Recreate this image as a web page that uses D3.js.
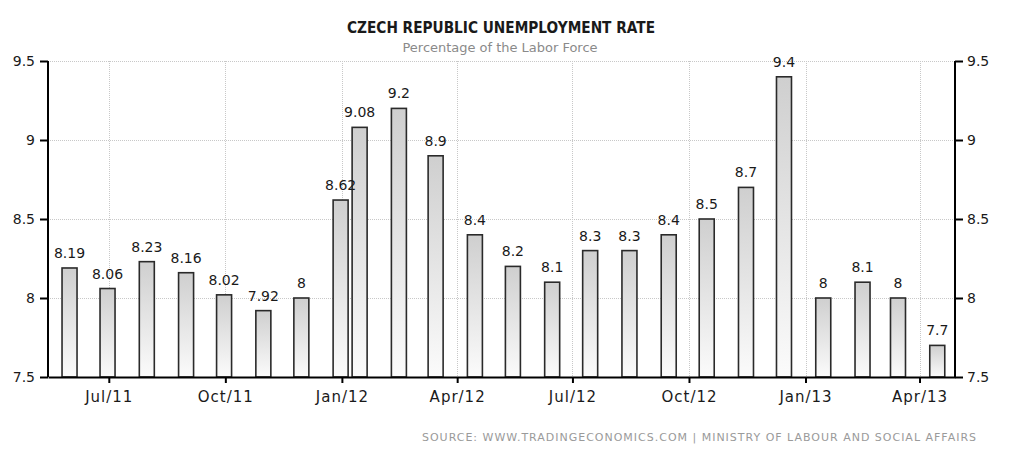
<!DOCTYPE html>
<html>
<head>
<meta charset="utf-8">
<script src="https://cdn.jsdelivr.net/npm/d3@7"></script>
<style>
  html, body { margin: 0; padding: 0; background: #fff; }
  svg { display: block; }
</style>
</head>
<body>
<svg id="chart" width="1024" height="453"></svg>
<script>
// ---- data ----
const dates = ["2011-05-31","2011-06-30","2011-07-31","2011-08-31","2011-09-30","2011-10-31","2011-11-30","2011-12-31",
  "2012-01-15","2012-02-15","2012-03-15","2012-04-15","2012-05-15","2012-06-15","2012-07-15","2012-08-15",
  "2012-09-15","2012-10-15","2012-11-15","2012-12-15","2013-01-15","2013-02-15","2013-03-15","2013-04-15"];
const values = [8.19, 8.06, 8.23, 8.16, 8.02, 7.92, 8, 8.62,
  9.08, 9.2, 8.9, 8.4, 8.2, 8.1, 8.3, 8.3,
  8.4, 8.5, 8.7, 9.4, 8, 8.1, 8, 7.7];
const labels = ["8.19","8.06","8.23","8.16","8.02","7.92","8","8.62",
  "9.08","9.2","8.9","8.4","8.2","8.1","8.3","8.3",
  "8.4","8.5","8.7","9.4","8","8.1","8","7.7"];
const xTickDates = ["2011-07-01","2011-10-01","2012-01-01","2012-04-01","2012-07-01","2012-10-01","2013-01-01","2013-04-01"];
const xTickLabels = ["Jul/11","Oct/11","Jan/12","Apr/12","Jul/12","Oct/12","Jan/13","Apr/13"];
const yTicks = [7.5, 8, 8.5, 9, 9.5];
const yTickLabels = ["7.5","8","8.5","9","9.5"];
const title = "CZECH REPUBLIC UNEMPLOYMENT RATE";
const subtitle = "Percentage of the Labor Force";
const source = "SOURCE: WWW.TRADINGECONOMICS.COM | MINISTRY OF LABOUR AND SOCIAL AFFAIRS";

// ---- layout ----
const parse = d3.utcParse("%Y-%m-%d");
const L = 48, R = 955, T = 61, B = 377;
const svg = d3.select("#chart");
const font = "'DejaVu Sans', sans-serif";

const x = d3.scaleUtc()
  .domain([parse("2011-05-14"), parse("2013-04-29")])
  .range([L, R]);
const y = d3.scaleLinear().domain([7.5, 9.5]).range([B, T]);

const defs = svg.append("defs");
const grad = defs.append("linearGradient").attr("id", "barGrad")
  .attr("x1", 0).attr("y1", 0).attr("x2", 0).attr("y2", 1);
grad.append("stop").attr("offset", "0%").attr("stop-color", "#cfcfcf");
grad.append("stop").attr("offset", "100%").attr("stop-color", "#fbfbfb");

// grid
const grid = svg.append("g");
grid.selectAll("line.h").data(yTicks.filter(v => v > 7.5)).enter().append("line")
  .attr("x1", L).attr("x2", R)
  .attr("y1", d => Math.round(y(d)) + 0.5).attr("y2", d => Math.round(y(d)) + 0.5)
  .attr("stroke", "#c8c8c8").attr("stroke-width", 1).attr("stroke-dasharray", "1,1");
grid.selectAll("line.v").data(xTickDates).enter().append("line")
  .attr("x1", d => Math.round(x(parse(d))) + 0.5).attr("x2", d => Math.round(x(parse(d))) + 0.5)
  .attr("y1", T).attr("y2", B)
  .attr("stroke", "#c8c8c8").attr("stroke-width", 1).attr("stroke-dasharray", "1,1");

// bars
const bw = 15;
const bars = svg.append("g");
bars.selectAll("rect").data(values).enter().append("rect")
  .attr("x", (d, i) => x(parse(dates[i])) - bw / 2)
  .attr("y", d => y(d))
  .attr("width", bw)
  .attr("height", d => B - y(d))
  .attr("fill", "url(#barGrad)")
  .attr("stroke", "#2a2a2a").attr("stroke-width", 1.6);

// value labels
svg.append("g").selectAll("text").data(values).enter().append("text")
  .attr("x", (d, i) => x(parse(dates[i])))
  .attr("y", d => y(d) - 10)
  .attr("text-anchor", "middle")
  .attr("font-family", font).attr("font-size", 14)
  .attr("fill", "#1a1a1a")
  .text((d, i) => labels[i]);

// axes
const yFmt = (d) => yTickLabels[yTicks.indexOf(d)];
const leftAxis = d3.axisLeft(y).tickValues(yTicks).tickFormat(yFmt).tickSize(8).tickPadding(5);
const rightAxis = d3.axisRight(y).tickValues(yTicks).tickFormat(yFmt).tickSize(8).tickPadding(4);
const xTicks = xTickDates.map(parse);
const bottomAxis = d3.axisBottom(x).tickValues(xTicks)
  .tickFormat((d, i) => xTickLabels[i]).tickSize(6).tickPadding(8).tickSizeOuter(0);

function style(g) {
  g.select(".domain").attr("stroke", "#000").attr("stroke-width", 2);
  g.selectAll(".tick line").attr("stroke", "#000").attr("stroke-width", 2);
  g.selectAll("text").attr("font-family", font).attr("font-size", 14).attr("fill", "#1a1a1a");
}
svg.append("g").attr("transform", `translate(${L},0)`).call(leftAxis).call(style)
  .call(g => g.select(".domain").attr("d", `M0,${T}V${B}`));
svg.append("g").attr("transform", `translate(${R},0)`).call(rightAxis).call(style)
  .call(g => g.select(".domain").attr("d", `M0,${T}V${B}`));
svg.append("g").attr("transform", `translate(0,${B})`).call(bottomAxis).call(style)
  .call(g => g.selectAll("text").attr("font-size", 15).attr("letter-spacing", "1px"));

// titles
svg.append("text").attr("x", 501).attr("y", 33).attr("text-anchor", "middle")
  .attr("font-family", font).attr("font-weight", "bold").attr("font-size", 15)
  .attr("fill", "#1a1a1a").attr("textLength", 308).attr("lengthAdjust", "spacingAndGlyphs")
  .text(title);
svg.append("text").attr("x", 500).attr("y", 52).attr("text-anchor", "middle")
  .attr("font-family", font).attr("font-size", 12)
  .attr("fill", "#8a8a8a").attr("textLength", 195).attr("lengthAdjust", "spacingAndGlyphs")
  .text(subtitle);
svg.append("text").attr("x", 976).attr("y", 441).attr("text-anchor", "end")
  .attr("font-family", font).attr("font-size", 11)
  .attr("fill", "#9a9a9a").attr("textLength", 554).attr("lengthAdjust", "spacing")
  .text(source);
</script>
</body>
</html>
